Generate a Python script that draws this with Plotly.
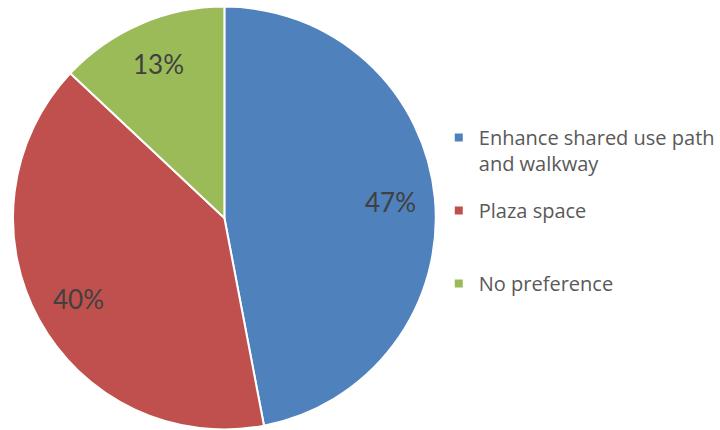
import math
import plotly.graph_objects as go

categories = ["Enhance shared use path", "Plaza space", "No preference"]
legend_text = ["Enhance shared use path<br>and walkway", "Plaza space<br> ", "No preference<br> "]
values = [47, 40, 13]
colors = ["#4F81BD", "#C0504D", "#9BBB59"]

W, H = 720, 430
CX, CY, R = 225, 218, 212  # pie centre / radius in pixels
LABEL_R = 0.79

fig = go.Figure(go.Pie(
    labels=categories,
    values=values,
    sort=False,
    direction="clockwise",
    rotation=0,
    textinfo="none",
    showlegend=False,
    marker=dict(colors=colors, line=dict(color="white", width=2)),
    domain=dict(x=[(CX - R) / W, (CX + R) / W], y=[1 - (CY + R) / H, 1 - (CY - R) / H]),
    hoverinfo="label+percent",
))

# legend entries (one per category, square swatches)
for i, (name, col) in enumerate(zip(legend_text, colors)):
    fig.add_trace(go.Scatter(
        x=[None], y=[None], mode="markers", name=name,
        marker=dict(symbol="square", size=8, color=col),
        legendgroup=f"g{i}", showlegend=True, hoverinfo="skip",
    ))

# percentage labels placed along each slice's mid-angle
total = sum(values)
cum = 0
anns = []
for v in values:
    mid = (cum + v / 2) / total * 2 * math.pi
    cum += v
    xp = CX + LABEL_R * R * math.sin(mid)
    yp = CY - LABEL_R * R * math.cos(mid)
    anns.append(dict(
        x=xp / W, y=1 - yp / H, xref="paper", yref="paper",
        xanchor="center", yanchor="middle",
        text=f"{round(100 * v / total)}%", showarrow=False,
        font=dict(family="Lato, Open Sans, sans-serif", size=26, color="#404040"),
    ))

fig.update_layout(
    width=W, height=H,
    margin=dict(l=0, r=0, t=0, b=0),
    paper_bgcolor="white",
    plot_bgcolor="white",
    showlegend=True,
    annotations=anns,
    xaxis=dict(visible=False),
    yaxis=dict(visible=False),
    legend=dict(
        x=440 / W, y=1 - 118 / H, xanchor="left", yanchor="top",
        font=dict(family="Open Sans, sans-serif", size=20, color="#595959"),
        valign="top",
        tracegroupgap=18,
        itemwidth=30,
        bgcolor="rgba(0,0,0,0)",
    ),
)

fig.write_html("out.html", config={"displayModeBar": False},
               post_script="document.body.style.margin='0';")
